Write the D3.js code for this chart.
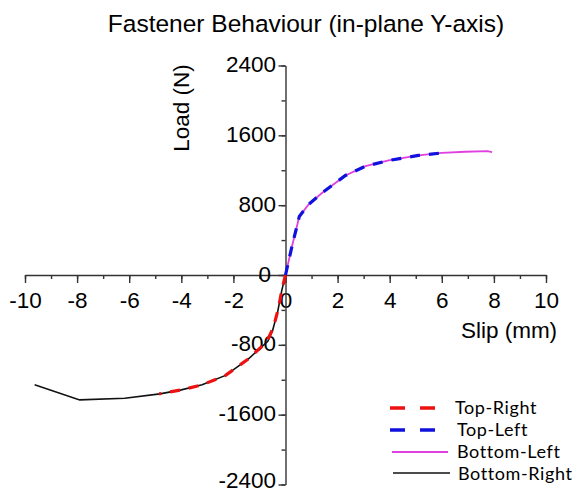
<!DOCTYPE html>
<html><head><meta charset="utf-8">
<script src="https://cdn.jsdelivr.net/npm/d3@7"></script>
<style>body{margin:0;background:#fff}svg{display:block}</style>
</head><body>
<script>
const xTicks = [-10,-8,-6,-4,-2,0,2,4,6,8,10];
const yTicks = [-2400,-1600,-800,0,800,1600,2400];
const seriesNames = ["Top-Right","Top-Left","Bottom-Left","Bottom-Right"];
const topRight = [[0,0],[-0.14,-173],[-0.27,-380],[-0.46,-595],[-0.72,-767],[-1.42,-960],[-2.3,-1150],[-3.2,-1258],[-4.0,-1316],[-4.85,-1362]];
const topLeft = [[0,0],[0.25,330],[0.53,671],[0.88,806],[1.4,940],[2.3,1140],[3.07,1247],[3.96,1312],[5.1,1370],[6.05,1400]];
const bottomLeft = [[0,0],[0.25,330],[0.53,671],[0.88,806],[1.4,940],[2.3,1140],[3.07,1247],[3.96,1312],[5.1,1370],[6.0,1400],[6.9,1412],[7.75,1420],[7.93,1408]];
const bottomRight = [[0,0],[-0.14,-173],[-0.3,-420],[-0.5,-640],[-0.68,-760],[-1.42,-960],[-2.3,-1150],[-3.2,-1258],[-4.0,-1316],[-4.82,-1362],[-6.17,-1412],[-7.9,-1431],[-9.63,-1258]];

const W=587,H=494;
const svg=d3.select("body").append("svg").attr("width",W).attr("height",H);
const x=d3.scaleLinear().domain([-10,10]).range([25,546]);
const y=d3.scaleLinear().domain([-2400,2400]).range([484.5,65.5]);
const axisColor="#333";
const font="'Liberation Sans', Arial, sans-serif";
const fs=22.5;

// title
svg.append("text").attr("x",306).attr("y",32).attr("text-anchor","middle")
  .attr("font-family",font).attr("font-size",24.5).attr("fill","#000")
  .text("Fastener Behaviour (in-plane Y-axis)");

// x axis
const xAxisG=svg.append("g").attr("transform",`translate(0,${y(0)})`);
const xMinor=d3.range(-10,10.01,1);
xAxisG.append("g").call(d3.axisBottom(x).tickValues(xMinor).tickSize(4).tickFormat(""))
  .call(g=>g.select(".domain").remove());
xAxisG.append("g").call(d3.axisBottom(x).tickValues(xTicks).tickSize(8).tickSizeOuter(0).tickPadding(9)
  .tickFormat(d=>String(d)));
xAxisG.selectAll("line").attr("stroke",axisColor).attr("stroke-width",1.4);
xAxisG.selectAll(".domain").attr("stroke",axisColor).attr("stroke-width",1.4);
xAxisG.selectAll("text").attr("font-family",font).attr("font-size",fs).attr("fill","#000");

// y axis
const yAxisG=svg.append("g").attr("transform",`translate(${x(0)},0)`);
const yMinor=d3.range(-2400,2401,400);
yAxisG.append("g").call(d3.axisLeft(y).tickValues(yMinor).tickSize(4).tickFormat(""))
  .call(g=>g.select(".domain").remove());
yAxisG.append("g").call(d3.axisLeft(y).tickValues(yTicks).tickSize(7).tickSizeOuter(0).tickFormat(""));
yAxisG.selectAll("line").attr("stroke",axisColor).attr("stroke-width",1.4);
yAxisG.selectAll(".domain").attr("stroke",axisColor).attr("stroke-width",1.4);
yTicks.forEach(v=>{
  svg.append("text").attr("x",v===0?271:276).attr("y",v===-2400?488:y(v)+6.5).attr("text-anchor","end")
    .attr("font-family",font).attr("font-size",fs).attr("fill","#000").text(String(v));
});

// axis titles
svg.append("text").attr("transform",`translate(189,108) rotate(-90)`).attr("text-anchor","middle")
  .attr("font-family",font).attr("font-size",fs).text("Load (N)");
svg.append("text").attr("x",509).attr("y",338).attr("text-anchor","middle")
  .attr("font-family",font).attr("font-size",fs).text("Slip (mm)");

// lines
const line=d3.line().x(d=>x(d[0])).y(d=>y(d[1]));
svg.append("path").datum(bottomRight).attr("d",line).attr("fill","none").attr("stroke","#111").attr("stroke-width",1.6);
svg.append("path").datum(bottomLeft).attr("d",line).attr("fill","none").attr("stroke","#e040e0").attr("stroke-width",1.8);
svg.append("path").datum(topRight).attr("d",line).attr("fill","none").attr("stroke","#ee1111").attr("stroke-width",3.2).attr("stroke-dasharray","10,9");
svg.append("path").datum(topLeft).attr("d",line).attr("fill","none").attr("stroke","#1111dd").attr("stroke-width",3.2).attr("stroke-dasharray","10,9");

// legend
const legFont="Lato, 'Open Sans', sans-serif";
const leg=[
  {name:seriesNames[0],color:"#ee1111",w:3.5,dash:"15,15",x1:390,x2:435,y:408,tx:455,ty:414},
  {name:seriesNames[1],color:"#1111dd",w:3.5,dash:"15,15",x1:390,x2:435,y:430,tx:457,ty:436},
  {name:seriesNames[2],color:"#e040e0",w:2,dash:null,x1:392,x2:448,y:452,tx:457,ty:458},
  {name:seriesNames[3],color:"#111",w:1.6,dash:null,x1:393,x2:450,y:473,tx:458,ty:480}
];
leg.forEach(l=>{
  const ln=svg.append("line").attr("x1",l.x1).attr("x2",l.x2).attr("y1",l.y).attr("y2",l.y)
    .attr("stroke",l.color).attr("stroke-width",l.w);
  if(l.dash) ln.attr("stroke-dasharray",l.dash);
  svg.append("text").attr("x",l.tx).attr("y",l.ty).attr("font-family",legFont).attr("font-size",18)
    .attr("letter-spacing",0.6).attr("fill","#000").text(l.name);
});
</script>
</body></html>
